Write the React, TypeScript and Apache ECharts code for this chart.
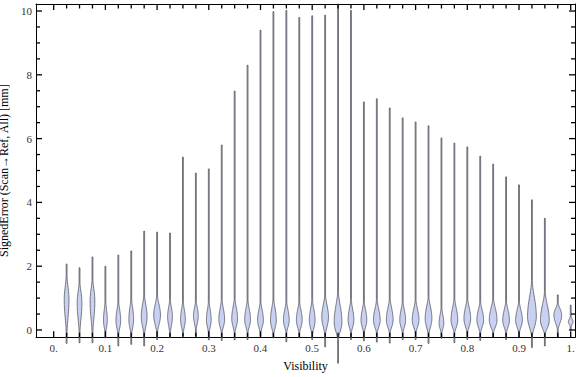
import React, { useEffect, useRef } from "react";
import * as echarts from "echarts";

// Violin positions (Visibility bins)
const positions = [
  0.025, 0.05, 0.075, 0.1, 0.125, 0.15, 0.175, 0.2, 0.225, 0.25,
  0.275, 0.3, 0.325, 0.35, 0.375, 0.4, 0.425, 0.45, 0.475, 0.5,
  0.525, 0.55, 0.575, 0.6, 0.625, 0.65, 0.675, 0.7, 0.725, 0.75,
  0.775, 0.8, 0.825, 0.85, 0.875, 0.9, 0.925, 0.95, 0.975, 1.0,
];
// Maximum signed error per bin [mm]
const maxValues = [
  2.07, 1.95, 2.29, 2.0, 2.35, 2.48, 3.1, 3.07, 3.04, 5.42,
  4.92, 5.05, 5.8, 7.49, 8.3, 9.4, 9.98, 10.02, 9.8, 9.85,
  9.87, 10.22, 10.02, 7.15, 7.25, 6.96, 6.65, 6.52, 6.4, 6.02,
  5.86, 5.74, 5.45, 5.2, 4.8, 4.55, 4.08, 3.5, 1.1, 0.78,
];
// Minimum signed error per bin [mm]
const minValues = [
  -0.42, -0.4, -0.4, -0.25, -0.5, -0.45, -0.5, -0.3, -0.25, -0.19,
  -0.19, -0.31, -0.33, -0.31, -0.3, -0.2, -0.25, -0.37, -0.25, -0.3,
  -0.53, -1.04, -0.3, -0.34, -0.38, -0.41, -0.3, -0.3, -0.42, -0.26,
  -0.4, -0.3, -0.33, -0.22, -0.3, -0.22, -0.55, -0.5, -0.22, 0.0,
];
// Peak of the density per bin [mm]
const modeValues = [
  0.95, 0.85, 0.9, 0.3, 0.3, 0.33, 0.42, 0.47, 0.42, 0.33,
  0.45, 0.32, 0.33, 0.36, 0.33, 0.31, 0.31, 0.31, 0.31, 0.3,
  0.4, 0.25, 0.31, 0.31, 0.31, 0.31, 0.31, 0.31, 0.36, 0.21,
  0.31, 0.36, 0.31, 0.31, 0.31, 0.31, 0.42, 0.3, 0.47, 0.26,
];
// Lower end of the density bulb [mm]
const bulbLowValues = [
  -0.1, -0.1, -0.1, -0.1, -0.15, -0.15, -0.15, -0.1, -0.1, -0.1,
  0.0, -0.1, -0.1, -0.1, -0.1, -0.1, -0.15, -0.1, -0.1, -0.15,
  -0.15, -0.3, -0.1, -0.1, -0.1, -0.1, -0.1, -0.1, -0.15, -0.1,
  -0.1, -0.1, -0.1, -0.1, -0.1, -0.1, -0.2, -0.15, 0.0, 0.1,
];
// Upper end of the density bulb [mm]
const bulbHighValues = [
  1.7, 1.5, 1.6, 0.9, 0.9, 1.0, 1.1, 1.1, 0.95, 0.9,
  0.9, 0.9, 0.95, 1.0, 0.95, 0.9, 1.0, 0.9, 0.9, 0.95,
  1.1, 1.2, 0.95, 0.9, 0.95, 1.0, 0.9, 0.95, 1.05, 0.7,
  1.0, 1.0, 0.9, 1.0, 0.9, 0.9, 1.55, 1.2, 0.85, 0.42,
];
// Half width of the bulb at its peak (in Visibility units)
const halfWidths = [
  0.0046, 0.0046, 0.0046, 0.0037, 0.0046, 0.0046, 0.0056, 0.0065, 0.0046, 0.0046,
  0.0046, 0.0046, 0.0056, 0.0056, 0.0056, 0.0056, 0.0056, 0.0056, 0.0056, 0.0056,
  0.0065, 0.0075, 0.0056, 0.0056, 0.0065, 0.0065, 0.0056, 0.0065, 0.0065, 0.0046,
  0.0065, 0.0065, 0.0065, 0.0075, 0.0065, 0.0065, 0.0085, 0.0085, 0.0075, 0.0046,
];

const xTickValues = [0, 0.1, 0.2, 0.3, 0.4, 0.5, 0.6, 0.7, 0.8, 0.9, 1.0];
const xTickLabels = ["0.", "0.1", "0.2", "0.3", "0.4", "0.5", "0.6", "0.7", "0.8", "0.9", "1."];
const xMinorTicks = [0, ...positions];
const yTickValues = [0, 2, 4, 6, 8, 10];
const yTickLabels = ["0", "2", "4", "6", "8", "10"];
const yMinorTicks = [
  0, 0.5, 1, 1.5, 2, 2.5, 3, 3.5, 4, 4.5, 5, 5.5, 6, 6.5, 7, 7.5, 8, 8.5, 9, 9.5, 10,
];

const X_MIN = -0.0342;
const X_MAX = 1.0083;
const Y_MIN = -0.229;
const Y_MAX = 10.22;

const FONT = "Liberation Serif";

export default function App() {
  const ref = useRef<HTMLDivElement>(null);

  useEffect(() => {
    if (!ref.current) return;
    const chart = echarts.init(ref.current, undefined, { renderer: "svg" });

    const findLabel = (vals: number[], labels: string[], v: number) => {
      const i = vals.findIndex((t) => Math.abs(t - v) < 1e-6);
      return i >= 0 ? labels[i] : "";
    };
    const isIn = (vals: number[], v: number) => vals.some((t) => Math.abs(t - v) < 1e-6);

    const frameLine = { show: true, onZero: false, lineStyle: { color: "#000", width: 1 } };
    const tickStyle = { stroke: "#000", lineWidth: 1.3 };

    const option: any = {
      animation: false,
      grid: {
        left: 36,
        top: 4,
        width: 539,
        height: 333.3,
        containLabel: false,
        outerBoundsMode: "none",
      },
      xAxis: [
        {
          type: "value",
          position: "bottom",
          min: X_MIN,
          max: X_MAX,
          axisLine: frameLine,
          axisTick: { show: false },
          axisLabel: {
            show: true,
            customValues: xTickValues,
            formatter: (v: number) => findLabel(xTickValues, xTickLabels, v),
            color: "#333",
            fontFamily: FONT,
            fontSize: 11,
            margin: 5,
          },
          splitLine: { show: false },
          name: "Visibility",
          nameLocation: "middle",
          nameGap: 23,
          nameTextStyle: { color: "#000", fontFamily: FONT, fontSize: 12 },
        },
        {
          type: "value",
          position: "top",
          min: X_MIN,
          max: X_MAX,
          axisLine: frameLine,
          axisTick: { show: false },
          axisLabel: { show: false },
          splitLine: { show: false },
        },
      ],
      yAxis: [
        {
          type: "value",
          position: "left",
          min: Y_MIN,
          max: Y_MAX,
          axisLine: frameLine,
          axisTick: { show: false },
          axisLabel: {
            show: true,
            customValues: yTickValues,
            formatter: (v: number) => findLabel(yTickValues, yTickLabels, v),
            color: "#333",
            fontFamily: FONT,
            fontSize: 11,
            margin: 4,
          },
          splitLine: { show: false },
          name: "SignedError (Scan→Ref, All) [mm]",
          nameLocation: "middle",
          nameRotate: 90,
          nameGap: 18,
          nameTextStyle: { color: "#000", fontFamily: FONT, fontSize: 12 },
        },
        {
          type: "value",
          position: "right",
          min: Y_MIN,
          max: Y_MAX,
          axisLine: frameLine,
          axisTick: { show: false },
          axisLabel: { show: false },
          splitLine: { show: false },
        },
      ],
      series: [
        // violins
        {
          type: "custom",
          clip: false,
          data: positions.map((p, i) => [
            p,
            minValues[i],
            maxValues[i],
            modeValues[i],
            bulbLowValues[i],
            bulbHighValues[i],
            halfWidths[i],
          ]),
          encode: { x: 0, y: [1, 2] },
          renderItem: (_params: any, api: any) => {
            const x = api.value(0);
            const lo = api.value(1);
            const hi = api.value(2);
            const mode = api.value(3);
            const bl = api.value(4);
            const bh = api.value(5);
            const hw = api.value(6);
            const c0 = api.coord([x, 0]);
            const c1 = api.coord([x + hw, 0]);
            const hwPx = c1[0] - c0[0];
            const cx = c0[0];
            const a = Math.max(lo, bl);
            const b = Math.min(hi, bh);
            const ys: number[] = [lo];
            const N = 40;
            for (let k = 0; k <= N; k++) ys.push(a + ((b - a) * k) / N);
            ys.push(hi);
            const widthAt = (y: number) => {
              const t = y < mode ? (mode - y) / Math.max(1e-6, mode - bl) : (y - mode) / Math.max(1e-6, bh - mode);
              const g = t < 1 ? Math.pow(1 - t * t, 2) : 0;
              return 0.45 + (hwPx - 0.45) * g;
            };
            const right: number[][] = [];
            const left: number[][] = [];
            ys.forEach((y) => {
              const py = api.coord([x, y])[1];
              const w = widthAt(y);
              right.push([cx + w, py]);
              left.push([cx - w, py]);
            });
            const pts = right.concat(left.reverse());
            return {
              type: "polygon",
              shape: { points: pts },
              style: { fill: "#c9d1f3", stroke: "rgba(55,55,60,0.8)", lineWidth: 0.8 },
            };
          },
        },
        // frame ticks on the x axis (bottom and top, pointing inward)
        {
          type: "custom",
          clip: false,
          data: xMinorTicks.map((v) => [v, Y_MIN]),
          encode: { x: 0, y: 1 },
          renderItem: (_p: any, api: any) => {
            const v = api.value(0);
            const b = api.coord([v, Y_MIN]);
            const t = api.coord([v, Y_MAX]);
            const len = isIn(xTickValues, v) ? 6 : 4.5;
            return {
              type: "group",
              children: [
                { type: "line", shape: { x1: b[0], y1: b[1], x2: b[0], y2: b[1] - len }, style: tickStyle },
                { type: "line", shape: { x1: t[0], y1: t[1], x2: t[0], y2: t[1] + len }, style: tickStyle },
              ],
            };
          },
        },
        // frame ticks on the y axis (left and right, pointing inward)
        {
          type: "custom",
          clip: false,
          data: yMinorTicks.map((v) => [X_MIN, v]),
          encode: { x: 0, y: 1 },
          renderItem: (_p: any, api: any) => {
            const v = api.value(1);
            const l = api.coord([X_MIN, v]);
            const r = api.coord([X_MAX, v]);
            const len = isIn(yTickValues, v) ? 6 : 4;
            return {
              type: "group",
              children: [
                { type: "line", shape: { x1: l[0], y1: l[1], x2: l[0] + len, y2: l[1] }, style: tickStyle },
                { type: "line", shape: { x1: r[0], y1: r[1], x2: r[0] - len, y2: r[1] }, style: tickStyle },
              ],
            };
          },
        },
      ],
    };

    chart.setOption(option);
    return () => chart.dispose();
  }, []);

  return (
    <div
      ref={ref}
      style={{ position: "fixed", left: 0, top: 0, width: 576, height: 377, background: "#fff" }}
    />
  );
}
